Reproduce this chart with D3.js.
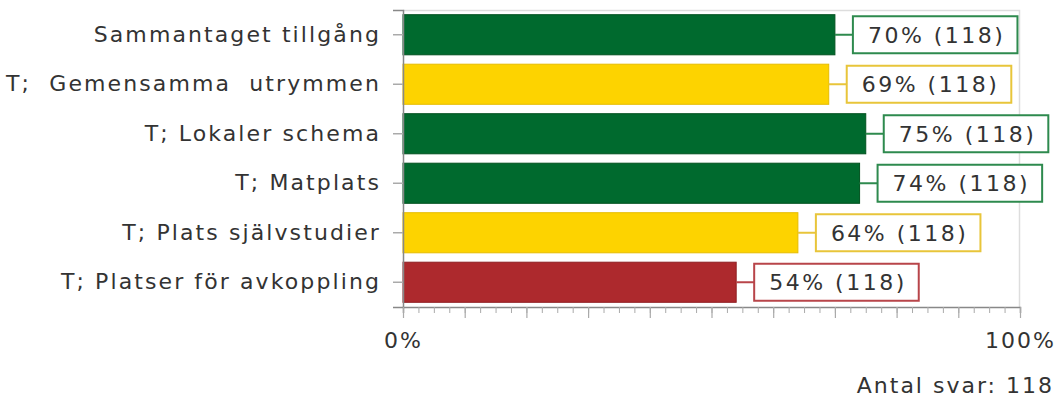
<!DOCTYPE html>
<html>
<head>
<meta charset="utf-8">
<script src="https://cdn.jsdelivr.net/npm/d3@7"></script>
<style>
  body { margin: 0; background: #fff; }
  text { font-family: "DejaVu Sans", Verdana, sans-serif; fill: #333; white-space: pre; }
</style>
</head>
<body>
<svg id="chart"></svg>
<script>
const categories = ["Sammantaget tillgång", "T;  Gemensamma  utrymmen", "T; Lokaler schema", "T; Matplats", "T; Plats självstudier", "T; Platser för avkoppling"];
const percents = [70, 69, 75, 74, 64, 54];
const counts = [118, 118, 118, 118, 118, 118];
const levels = ["good", "mid", "good", "good", "mid", "bad"];
const xTickLabels = ["0%", "100%"];
const totalAnswers = 118;

const barFill = { good: "#006a2e", mid: "#fdd300", bad: "#ad292d" };
const barStroke = { good: "#00521f", mid: "#e6bc00", bad: "#8f1f22" };
const boxStroke = { good: "#2e8a4e", mid: "#e8c53a", bad: "#b8454a" };

const width = 1058, height = 401;
const margin = { top: 10, right: 38, bottom: 94, left: 403 };
const w = width - margin.left - margin.right,
      h = height - margin.top - margin.bottom;

const svg = d3.select("#chart").attr("width", width).attr("height", height);
const g = svg.append("g").attr("transform", `translate(${margin.left}, ${margin.top})`);

const x = d3.scaleLinear().domain([0, 100]).range([0, w]);
const y = d3.scaleBand().domain(categories).range([0, h]).paddingInner(0.19).paddingOuter(0.095);

// plot frame (top + right)
g.append("path")
  .attr("d", `M0,0.5H${w - 0.5}V${h}`)
  .attr("fill", "none").attr("stroke", "#ddd").attr("stroke-width", 1.5);

// bars
g.selectAll(".bar").data(categories).join("rect")
  .attr("class", "bar")
  .attr("x", 0)
  .attr("y", d => y(d))
  .attr("width", (d, i) => x(percents[i]))
  .attr("height", y.bandwidth())
  .attr("fill", (d, i) => barFill[levels[i]])
  .attr("stroke", (d, i) => barStroke[levels[i]])
  .attr("stroke-width", 1);

// value labels with connector
const labelGap = 18, boxH = 37, boxPad = 15;
const lab = g.selectAll(".lab").data(categories).join("g").attr("class", "lab");
lab.append("line")
  .attr("x1", (d, i) => x(percents[i]))
  .attr("x2", (d, i) => x(percents[i]) + labelGap)
  .attr("y1", d => y(d) + y.bandwidth() / 2)
  .attr("y2", d => y(d) + y.bandwidth() / 2)
  .attr("stroke", (d, i) => boxStroke[levels[i]]).attr("stroke-width", 2);
const rects = lab.append("rect")
  .attr("y", d => y(d) + y.bandwidth() / 2 - boxH / 2)
  .attr("height", boxH)
  .attr("fill", "#fff")
  .attr("stroke", (d, i) => boxStroke[levels[i]]).attr("stroke-width", 2);
const texts = lab.append("text")
  .attr("x", (d, i) => x(percents[i]) + labelGap + boxPad)
  .attr("y", d => y(d) + y.bandwidth() / 2)
  .attr("dy", "0.36em")
  .attr("font-size", 22)
  .attr("letter-spacing", 2.5)
  .text((d, i) => `${percents[i]}% (${counts[i]})`);
texts.each(function (d, i) {
  const tw = this.getComputedTextLength();
  d3.select(rects.nodes()[i])
    .attr("x", x(percents[i]) + labelGap)
    .attr("width", tw + boxPad * 2 - 3);
});

// y axis
const yAxis = g.append("g").call(d3.axisLeft(y).tickSize(10).tickPadding(12));
yAxis.select(".domain").attr("stroke", "#888").attr("stroke-width", 1.5);
yAxis.selectAll(".tick line").attr("stroke", "#aaa").attr("stroke-width", 1.5);
yAxis.selectAll(".tick text").attr("font-size", 22).attr("letter-spacing", 2.1).attr("fill", "#333")
  .attr("font-family", "DejaVu Sans, Verdana, sans-serif");

// x axis: minor ticks every 2.5, major every 10
const xMinor = g.append("g").attr("transform", `translate(0, ${h})`)
  .call(d3.axisBottom(x).tickValues(d3.range(0, 101, 2.5)).tickSize(6).tickFormat(""));
xMinor.select(".domain").attr("stroke", "#888").attr("stroke-width", 1.5);
xMinor.selectAll(".tick line").attr("stroke", "#aaa");
const xMajor = g.append("g").attr("transform", `translate(0, ${h})`)
  .call(d3.axisBottom(x).tickValues(d3.range(0, 101, 10)).tickSize(11)
    .tickFormat(d => d === 0 ? xTickLabels[0] : d === 100 ? xTickLabels[1] : "").tickPadding(14));
xMajor.select(".domain").remove();
xMajor.selectAll(".tick line").attr("stroke", "#aaa").attr("stroke-width", 1.2);
xMajor.selectAll(".tick text").attr("font-size", 22).attr("letter-spacing", 2).attr("fill", "#333")
  .attr("font-family", "DejaVu Sans, Verdana, sans-serif");

// footer
svg.append("text")
  .attr("x", width - 4).attr("y", 393)
  .attr("text-anchor", "end")
  .attr("font-size", 22).attr("letter-spacing", 2)
  .text(`Antal svar: ${totalAnswers}`);
</script>
</body>
</html>
